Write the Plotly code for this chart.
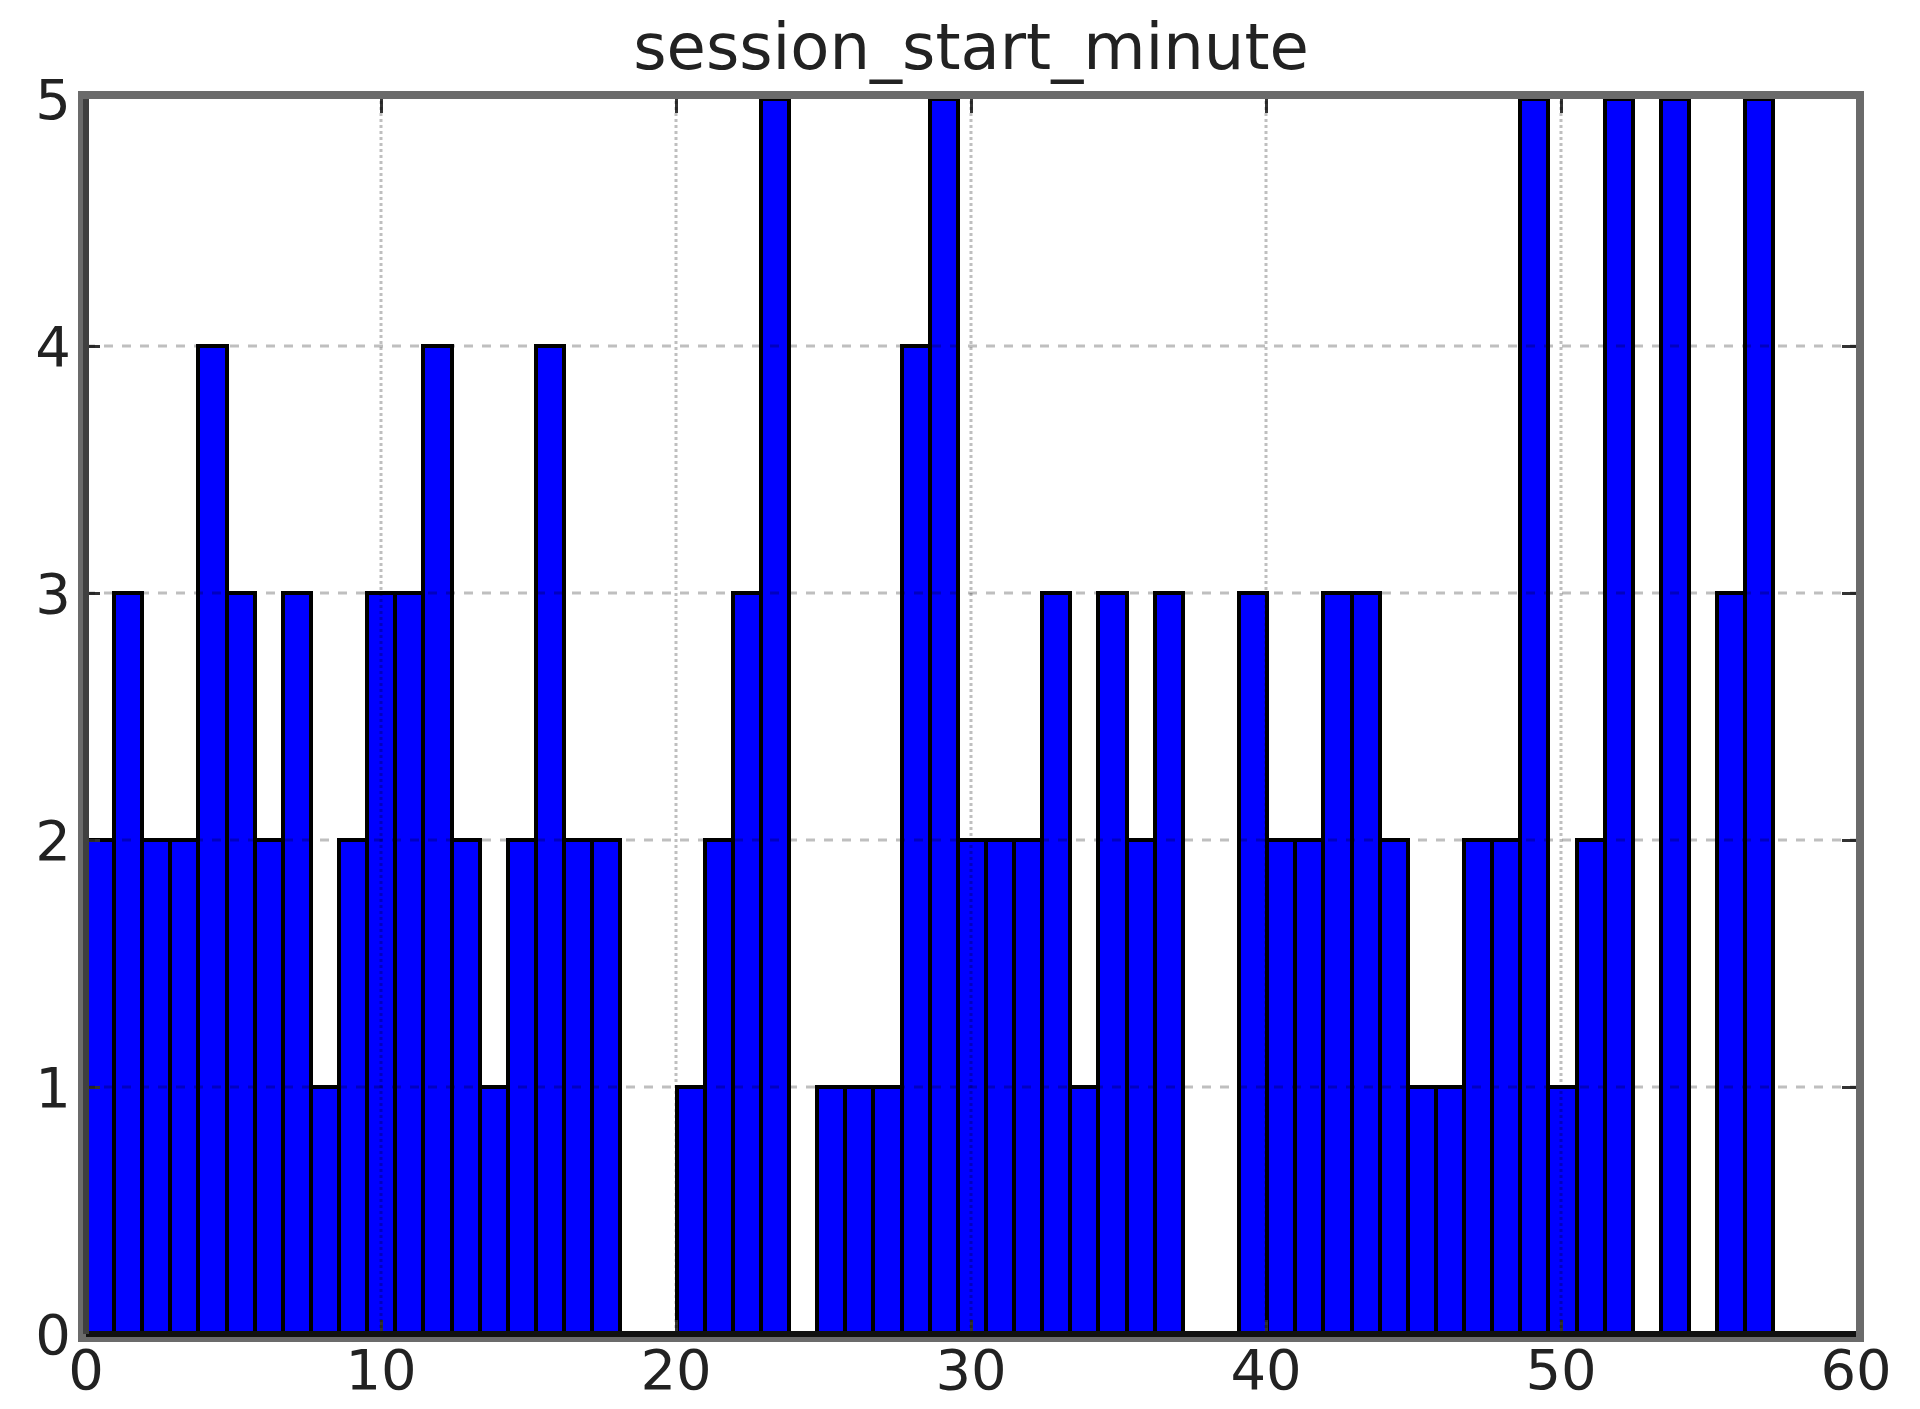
import plotly.graph_objects as go

# Histogram of session start minutes: 60 equal-width bins over the observed range
range_min = 0.0
range_max = 57.2
counts = [
    2, 3, 2, 2, 4, 3, 2, 3, 1, 2,
    3, 3, 4, 2, 1, 2, 4, 2, 2, 0,
    0, 1, 2, 3, 5, 0, 1, 1, 1, 4,
    5, 2, 2, 2, 3, 1, 3, 2, 3, 0,
    0, 3, 2, 2, 3, 3, 2, 1, 1, 2,
    2, 5, 1, 2, 5, 0, 5, 0, 3, 5,
]
x_ticks = [0, 10, 20, 30, 40, 50, 60]
y_ticks = [0, 1, 2, 3, 4, 5]
title_text = "session_start_minute"

n_bins = len(counts)
bin_width = (range_max - range_min) / n_bins
centers = [range_min + (i + 0.5) * bin_width for i in range(n_bins)]

FONT = "DejaVu Sans"

fig = go.Figure()
fig.add_trace(go.Bar(
    x=centers,
    y=counts,
    width=bin_width,
    marker=dict(color="#0000ff", line=dict(color="#000000", width=4)),
    hoverinfo="x+y",
))

axis_common = dict(
    showgrid=False,
    zeroline=False,
    showline=True,
    linecolor="#6b6b6b",
    linewidth=8,
    mirror="ticks",
    ticks="inside",
    ticklen=14,
    tickwidth=3,
    tickcolor="#333333",
    automargin=False,
    tickfont=dict(family=FONT, size=56, color="#222222"),
)

fig.update_layout(
    width=1920,
    height=1409,
    margin=dict(l=86, r=64, t=99, b=75),
    paper_bgcolor="white",
    plot_bgcolor="white",
    showlegend=False,
    bargap=0,
    title=dict(
        text=title_text,
        x=0.5,
        xref="paper",
        xanchor="center",
        y=1,
        yref="paper",
        yanchor="bottom",
        pad=dict(b=30),
        font=dict(family=FONT, size=64, color="#222222"),
    ),
    xaxis=dict(
        range=[x_ticks[0], x_ticks[-1]],
        tickmode="array",
        tickvals=x_ticks,
        ticklabelstandoff=-20,
        **axis_common,
    ),
    yaxis=dict(
        range=[y_ticks[0], y_ticks[-1]],
        tickmode="array",
        tickvals=y_ticks,
        ticklabelstandoff=-4,
        **axis_common,
    ),
)

# Grid lines drawn over the bars, translucent so they darken the blue fill
for v in x_ticks[1:-1]:
    fig.add_vline(x=v, line=dict(color="rgba(0,0,0,0.25)", width=3, dash="dot"), layer="above")
for v in y_ticks[1:-1]:
    fig.add_hline(y=v, line=dict(color="rgba(0,0,0,0.25)", width=3, dash="dash"), layer="above")

# Darker left and bottom spines
fig.add_shape(type="line", xref="x domain", yref="y domain", x0=0, x1=1, y0=0, y1=0,
              line=dict(color="#111111", width=6), layer="above")
fig.add_shape(type="line", xref="x domain", yref="y domain", x0=0, x1=0, y0=0, y1=1,
              line=dict(color="#404040", width=6), layer="above")

fig.write_html("out.html")
